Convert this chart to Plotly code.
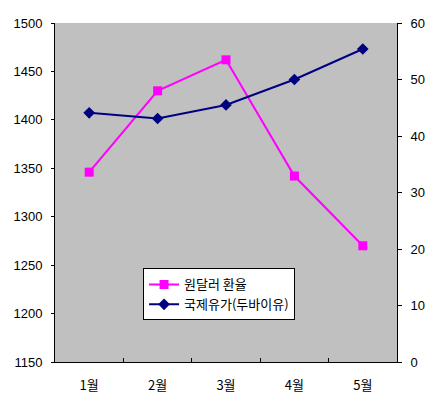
import plotly.graph_objects as go

months = ["1월", "2월", "3월", "4월", "5월"]
krw_usd = [1346, 1430, 1462, 1342, 1270]
dubai_oil = [44.1, 43.1, 45.5, 50.0, 55.4]
name_krw = "원달러 환율"
name_oil = "국제유가(두바이유)"

font_num = "Liberation Sans, Arial, sans-serif"
font_kr = "Noto Sans CJK KR, sans-serif"

fig = go.Figure()
fig.add_trace(go.Scatter(
    x=months, y=krw_usd, name=name_krw, mode="lines+markers",
    line=dict(color="#FF00FF", width=2),
    marker=dict(symbol="square", size=9, color="#FF00FF"),
    yaxis="y",
))
fig.add_trace(go.Scatter(
    x=months, y=dubai_oil, name=name_oil, mode="lines+markers",
    line=dict(color="#000080", width=2),
    marker=dict(symbol="diamond", size=9, color="#000080"),
    yaxis="y2",
))

fig.update_layout(
    width=430, height=395,
    margin=dict(l=55, r=33, t=23, b=33, autoexpand=False),
    paper_bgcolor="white",
    plot_bgcolor="#C0C0C0",
    showlegend=True,
    legend=dict(
        x=0.2575, y=0.276, xanchor="left", yanchor="top",
        bgcolor="white", bordercolor="black", borderwidth=1,
        font=dict(family=font_kr, size=13, color="black"),
        itemwidth=30, tracegroupgap=0,
    ),
    xaxis=dict(
        type="category", range=[-0.5, 4.5], automargin=False,
        showline=True, linecolor="black", linewidth=1,
        ticks="inside", ticklen=4, tickcolor="black", tickson="boundaries",
        showgrid=False, zeroline=False,
        tickfont=dict(family=font_kr, size=13, color="black"),
        ticklabelstandoff=11,
    ),
    yaxis=dict(
        range=[1150, 1500], dtick=50, automargin=False,
        showline=True, linecolor="black", linewidth=1,
        ticks="outside", ticklen=3, tickcolor="black",
        showgrid=False, zeroline=False,
        tickfont=dict(family=font_num, size=13, color="black"),
        ticklabelstandoff=6,
    ),
    yaxis2=dict(
        range=[0, 60], dtick=10, overlaying="y", side="right", automargin=False,
        showline=True, linecolor="black", linewidth=1,
        ticks="outside", ticklen=4, tickcolor="black",
        showgrid=False, zeroline=False,
        tickfont=dict(family=font_num, size=13, color="black"),
        ticklabelstandoff=6,
    ),
)

fig.write_html(
    "out.html",
    config={"displayModeBar": False},
    post_script="document.body.style.margin='0';document.body.style.padding='0';document.body.style.overflow='hidden';",
)
